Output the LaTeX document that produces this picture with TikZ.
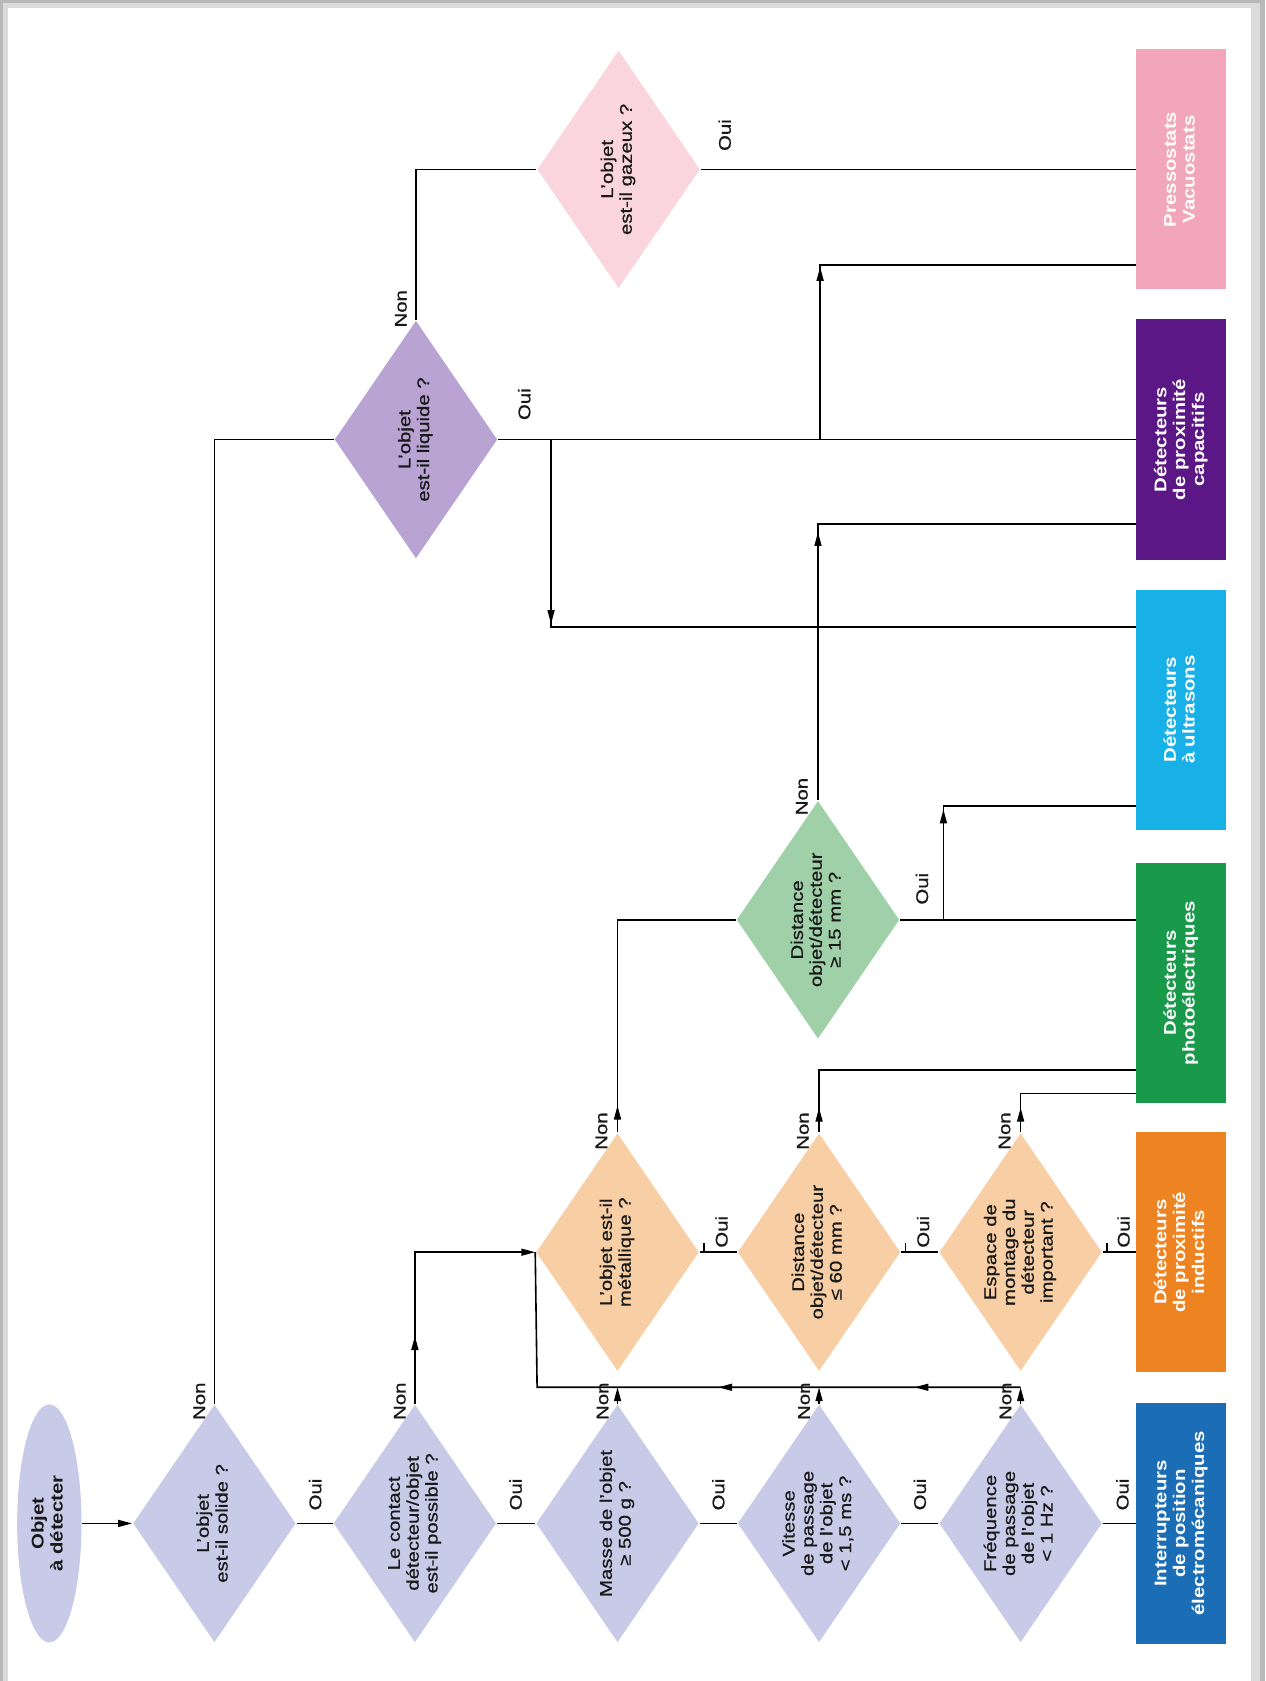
\documentclass[tikz,border=0pt]{standalone}
\usepackage{fontspec}
\setmainfont{Liberation Sans}[FakeStretch=1.2, UprightFeatures={FakeBold=0.8}]
\usepackage{graphicx}
\usetikzlibrary{shapes.geometric,arrows.meta,decorations.markings}

\definecolor{qblue}{HTML}{C7CBE8}
\definecolor{qpeach}{HTML}{F8CEA5}
\definecolor{qgreen}{HTML}{9FD0A8}
\definecolor{qlilac}{HTML}{B8A3D3}
\definecolor{qpink}{HTML}{FAD5DD}
\definecolor{bblue}{HTML}{1B6EB5}
\definecolor{borange}{HTML}{EE8321}
\definecolor{bgreen}{HTML}{19994A}
\definecolor{bcyan}{HTML}{17B1E7}
\definecolor{bpurple}{HTML}{5B1786}
\definecolor{bpink}{HTML}{F2A6BB}

% text set vertically, reading upwards
\newcommand{\vtext}[1]{\rotatebox{90}{\begin{tabular}{@{}c@{}}#1\end{tabular}}}

\tikzset{
  question/.style={diamond, minimum width=30.4mm, minimum height=44.4mm,
    inner sep=0pt, shape aspect=0.685, text=black!90},
  result/.style={rectangle, minimum width=16.8mm, minimum height=44.8mm,
    inner sep=0pt, text=white, font=\fontsize{9}{10}\selectfont\bfseries},
  startnode/.style={ellipse, minimum width=12mm, minimum height=44.4mm,
    inner sep=0pt, fill=qblue, text=black!90,
    font=\fontsize{9}{10}\selectfont\bfseries},
  lab/.style={rotate=90, inner sep=0pt, text=black!90},
  arrowat/.style={postaction={decorate, decoration={markings,
    mark=at position #1 with {\arrow{>}}}}},
}

\begin{document}
\begin{tikzpicture}[x=0.2mm, y=-0.2mm, line width=0.3mm,
  >={Triangle[length=2.6mm,width=1.3mm]},
  font=\fontsize{9}{10}\selectfont]

% page and its shadow
\fill[gray!55] (0,0) rectangle (1180,1568);
\fill[gray!28] (3,3) rectangle (1175,1568);
\fill[white] (7,7) rectangle (1167,1568);
\useasboundingbox (0,0) rectangle (1180,1568);

% start
\node[startnode] (obj) at (46,1421) {\vtext{Objet\\à détecter}};

% first row of questions
\node[question, fill=qblue] (d1) at (200,1421) {\vtext{L’objet\\est-il solide ?}};
\node[question, fill=qblue] (d2) at (387,1421) {\vtext{Le contact\\détecteur/objet\\est-il possible ?}};
\node[question, fill=qblue] (d3) at (576,1421) {\vtext{Masse de l’objet\\≥ 500 g ?}};
\node[question, fill=qblue] (d4) at (764,1421) {\vtext{Vitesse\\de passage\\de l’objet\\< 1,5 ms ?}};
\node[question, fill=qblue] (d5) at (952,1421) {\vtext{Fréquence\\de passage\\de l’objet\\< 1 Hz ?}};

% second row
\node[question, fill=qpeach] (m1) at (576,1168) {\vtext{L’objet est-il\\métallique ?}};
\node[question, fill=qpeach] (m2) at (764,1168) {\vtext{Distance\\objet/détecteur\\≤ 60 mm ?}};
\node[question, fill=qpeach] (m3) at (952,1168) {\vtext{Espace de\\montage du\\détecteur\\important ?}};

% remaining questions
\node[question, fill=qgreen] (g1) at (763,858) {\vtext{Distance\\objet/détecteur\\≥ 15 mm ?}};
\node[question, fill=qlilac] (l1) at (388,410) {\vtext{L’objet\\est-il liquide ?}};
\node[question, fill=qpink] (p1) at (577,158) {\vtext{L’objet\\est-il gazeux ?}};

% detector families
\node[result, fill=bblue] (b1) at (1102,1421) {\vtext{Interrupteurs\\de position\\électromécaniques}};
\node[result, fill=borange] (b2) at (1102,1168) {\vtext{Détecteurs\\de proximité\\inductifs}};
\node[result, fill=bgreen] (b3) at (1102,917) {\vtext{Détecteurs\\photoélectriques}};
\node[result, fill=bcyan] (b4) at (1102,662) {\vtext{Détecteurs\\à ultrasons}};
\node[result, fill=bpurple] (b5) at (1102,410) {\vtext{Détecteurs\\de proximité\\capacitifs}};
\node[result, fill=bpink] (b6) at (1102,158) {\vtext{Pressostats\\Vacuostats}};

% heights of the horizontal runs
\coordinate (ycol) at (501,1294);
\coordinate (yn2) at (0,998);
\coordinate (yn3) at (0,1020);
\coordinate (yg) at (0,489);
\coordinate (gb) at (880,752);
\coordinate (lq1) at (514,585);
\coordinate (lq2) at (765,247);

% main chain
\draw[->] (obj.east) -- (d1.west);
\draw (d1.east) -- (d2.west);
\draw (d2.east) -- (d3.west);
\draw (d3.east) -- (d4.west);
\draw (d4.east) -- (d5.west);
\draw (d5.east) -- (b1.west);

% solid? no -> liquid? no -> gaseous?
\draw (d1.north) -- (d1.north |- l1.west) -- (l1.west);
\draw (l1.north) -- (l1.north |- p1.west) -- (p1.west);
\draw (p1.east) -- (b6.west);

% liquid: yes
\draw (l1.east) -- (b5.west);
\draw[arrowat=34.4mm] (l1.east -| lq1) -- (lq1) -- (lq1 -| b4.west);
\draw[arrowat=32.2mm] (l1.east -| lq2) -- (lq2) -- (lq2 -| b6.west);

% contact impossible
\draw[->, arrowat=12.6mm] (d2.north) -- (d2.north |- m1.west) -- (m1.west);

% mass, speed, frequency: no
\draw[->] (d3.north) -- (d3.north |- ycol);
\draw[->] (d4.north) -- (d4.north |- ycol);
\draw[->] (d5.north) -- (d5.north |- ycol);
\draw[arrowat=19.8mm, arrowat=56.4mm] (d5.north |- ycol) -- (ycol) -- (m1.west);

% second row
\draw (m1.east) -- (m2.west);
\draw (m2.east) -- (m3.west);
\draw (m3.east) -- (b2.west);
\draw ([xshift=0.8mm]m1.east) -- ++(0,-9);
\draw ([xshift=0.8mm]m2.east) -- ++(0,-9);
\draw ([xshift=0.8mm]m3.east) -- ++(0,-9);
\draw[arrowat=5mm] (m1.north) -- (m1.north |- g1.west) -- (g1.west);
\draw[arrowat=4.6mm] (m2.north) -- (m2.north |- yn2) -- (yn2 -| b3.west);
\draw[arrowat=4.6mm] (m3.north) -- (m3.north |- yn3) -- (yn3 -| b3.west);

% distance >= 15 mm
\draw (g1.east) -- (g1.east -| b3.west);
\draw[arrowat=20.6mm] (g1.east -| gb) -- (gb) -- (gb -| b4.west);
\draw[arrowat=50mm] (g1.north) -- (g1.north |- yg) -- (yg -| b5.west);

% answers
\foreach \x in {294,481,670,858,1047} \node[lab] at (\x,1394) {Oui};
\foreach \x in {186,373,562,750,938} \node[lab] at (\x,1307) {Non};
\foreach \x in {673,861,1048} \node[lab] at (\x,1149) {Oui};
\foreach \x in {561,749,937} \node[lab] at (\x,1055) {Non};
\node[lab] at (860,829) {Oui};
\node[lab] at (748,743) {Non};
\node[lab] at (489,377) {Oui};
\node[lab] at (374,288) {Non};
\node[lab] at (676,126) {Oui};
\end{tikzpicture}
\end{document}
